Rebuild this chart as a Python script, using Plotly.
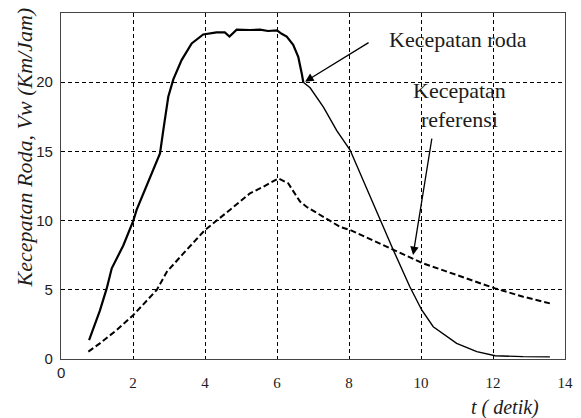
import plotly.graph_objects as go

# Kecepatan roda (solid)
t_roda = [0.78, 1.08, 1.27, 1.41, 1.73, 2.01, 2.10, 2.43, 2.75, 2.84, 2.98, 3.12, 3.35, 3.63,
          3.95, 4.32, 4.55, 4.68, 4.88, 5.25, 5.53, 5.75, 6.0, 6.13, 6.27, 6.45, 6.59, 6.69,
          6.73, 6.92, 7.29, 7.66, 8.03, 8.75, 8.89, 9.23, 9.69, 10.02, 10.34, 10.99, 11.55,
          12.06, 12.83, 13.58]
v_roda = [1.37, 3.5, 5.1, 6.55, 8.2, 10.0, 10.77, 12.8, 14.86, 16.5, 18.95, 20.2, 21.6, 22.8,
          23.45, 23.6, 23.6, 23.3, 23.8, 23.77, 23.8, 23.7, 23.75, 23.5, 23.3, 22.7, 21.84, 20.6,
          20.0, 19.6, 18.2, 16.5, 15.1, 10.77, 9.8, 7.88, 5.22, 3.54, 2.33, 1.13, 0.53,
          0.24, 0.17, 0.15]
split_idx = 28  # thick part ends at the arrow point

# Kecepatan referensi (dashed)
t_ref = [0.76, 1.08, 1.55, 2.01, 2.66, 2.94, 3.40, 4.0, 4.69, 5.25, 5.62, 6.04, 6.31, 6.64,
         6.82, 7.19, 7.75, 8.03, 9.23, 10.06, 10.99, 12.06, 12.84, 13.58]
v_ref = [0.53, 1.13, 2.1, 3.18, 4.99, 6.3, 7.63, 9.32, 10.77, 11.97, 12.45, 13.05, 12.7, 11.37,
         11.0, 10.4, 9.55, 9.32, 7.88, 6.91, 6.07, 5.1, 4.5, 4.02]

x_ticks = [2, 4, 6, 8, 10, 12, 14]
y_ticks = [0, 5, 10, 15, 20, 25]

serif = "Liberation Serif, Times New Roman, serif"
sans = "Liberation Sans, Arial, sans-serif"
txt = "#1c1c1c"

fig = go.Figure()
fig.add_trace(go.Scatter(x=t_roda[:split_idx + 1], y=v_roda[:split_idx + 1], mode="lines",
                         line=dict(color="black", width=2.2), showlegend=False))
fig.add_trace(go.Scatter(x=t_roda[split_idx:], y=v_roda[split_idx:], mode="lines",
                         line=dict(color="black", width=1.4), showlegend=False))
fig.add_trace(go.Scatter(x=t_ref, y=v_ref, mode="lines",
                         line=dict(color="black", width=2, dash="6px,3px"), showlegend=False))

# the page body has an 8px margin, so the figure is sized/positioned to compensate
fig.update_layout(
    width=573, height=410,
    margin=dict(l=53, r=16, t=5, b=59),
    paper_bgcolor="white", plot_bgcolor="white",
    xaxis=dict(range=[0, 14], tickvals=x_ticks, ticktext=[str(v) for v in x_ticks],
               showgrid=True, gridcolor="black", griddash="4px,3px", gridwidth=1,
               showline=True, linecolor="#444", linewidth=1.3, mirror=True,
               ticks="", zeroline=False, ticklabelstandoff=10,
               tickfont=dict(family=serif, size=15, color=txt)),
    yaxis=dict(range=[0, 25], tickvals=y_ticks,
               showgrid=True, gridcolor="black", griddash="4px,3px", gridwidth=1,
               showline=True, linecolor="#444", linewidth=1.3, mirror=True,
               ticks="", zeroline=False, ticklabelstandoff=4,
               tickfont=dict(family=sans, size=15, color=txt)),
)

fig.add_annotation(x=0, y=-0.04, xref="paper", yref="paper", text="0", showarrow=False,
                   xanchor="center", yanchor="middle", font=dict(family=sans, size=15, color=txt))

fig.add_annotation(x=0.881, y=-0.139, xref="paper", yref="paper", text="<i>t ( detik)</i>",
                   showarrow=False, xanchor="center", yanchor="middle",
                   font=dict(family=serif, size=20, color=txt))
fig.add_annotation(x=-0.073, y=0.612, xref="paper", yref="paper",
                   text="<i>Kecepatan Roda, Vw (Km/Jam)</i>", textangle=-90,
                   showarrow=False, xanchor="center", yanchor="middle",
                   font=dict(family=serif, size=22, color=txt))

fig.add_annotation(x=11.03, y=23.05, text="Kecepatan roda", showarrow=False,
                   xanchor="center", yanchor="middle", font=dict(family=serif, size=22, color=txt))
fig.add_annotation(x=11.08, y=18.35, text="Kecepatan<br>referensi", showarrow=False,
                   xanchor="center", yanchor="middle", font=dict(family=serif, size=22, color=txt))

fig.add_annotation(x=6.78, y=20.04, ax=65, ay=-40, text="", showarrow=True,
                   arrowhead=2, arrowsize=1.3, arrowwidth=1.3, arrowcolor="black")
fig.add_annotation(x=9.78, y=7.51, ax=19, ay=-118, text="", showarrow=True,
                   arrowhead=2, arrowsize=1.3, arrowwidth=1.3, arrowcolor="black")

fig.write_html("out.html")
